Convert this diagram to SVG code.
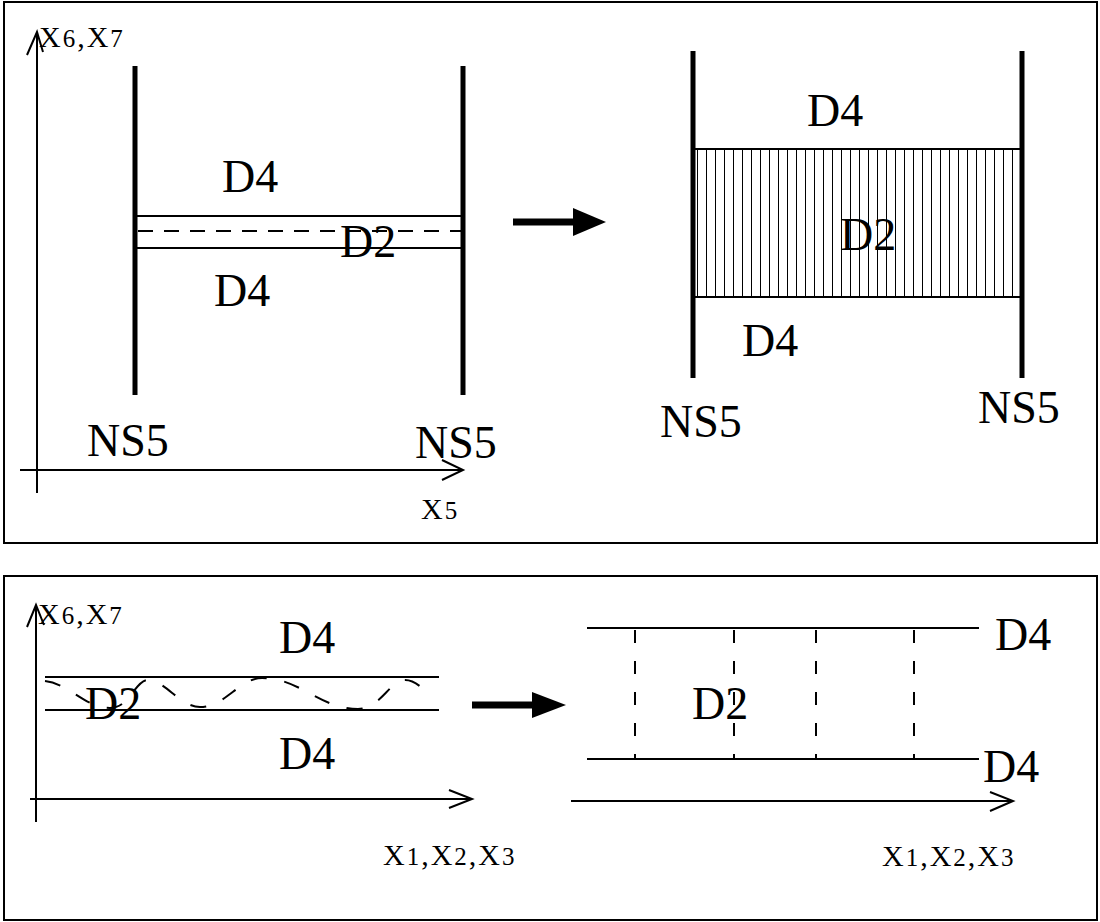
<svg xmlns="http://www.w3.org/2000/svg" width="1100" height="922" viewBox="0 0 1100 922">
<style>
.frame{fill:none;stroke:#000;stroke-width:2}
.ax{fill:none;stroke:#000;stroke-width:2}
.thin{fill:none;stroke:#000;stroke-width:2}
.thick{fill:none;stroke:#000;stroke-width:5}
.dash{fill:none;stroke:#000;stroke-width:2;stroke-dasharray:15 11}
.lbl{font-family:"Liberation Serif","Times New Roman",serif;font-size:46px;fill:#000}
.axl{font-family:"Liberation Serif","Times New Roman",serif;font-size:30px;fill:#000;letter-spacing:2px}
.dg{font-size:25px}
</style>
<defs>
<pattern id="hatch" patternUnits="userSpaceOnUse" x="693" y="0" width="9" height="10">
<rect width="9" height="10" fill="#fff"/>
<line x1="4.5" y1="0" x2="4.5" y2="10" stroke="#000" stroke-width="1"/>
</pattern>
</defs>
<rect x="0" y="0" width="1100" height="922" fill="#fff"/>
<g id="frames">
<rect class="frame" x="4" y="2" width="1093" height="541"/>
<rect class="frame" x="4" y="576" width="1093" height="344"/>
</g>
<g id="top-left">
<line class="ax" x1="37" y1="32" x2="37" y2="493"/>
<polyline class="ax" points="27,55 37,32 43,52"/>
<line class="ax" x1="20" y1="470" x2="463" y2="470"/>
<polyline class="ax" points="442,460 463,470 442,480"/>
<text class="axl" x="39" y="47">X<tspan class="dg">6</tspan>,X<tspan class="dg">7</tspan></text>
<text class="axl" x="421" y="519">X<tspan class="dg">5</tspan></text>
<line class="thick" x1="135" y1="66" x2="135" y2="395"/>
<line class="thick" x1="463" y1="66" x2="463" y2="395"/>
<line class="thin" x1="135" y1="216" x2="463" y2="216"/>
<line class="thin" x1="135" y1="248" x2="463" y2="248"/>
<line class="dash" x1="138" y1="231" x2="463" y2="231"/>
<text class="lbl" x="222" y="192">D4</text>
<text class="lbl" x="340" y="257">D2</text>
<text class="lbl" x="214" y="306">D4</text>
<text class="lbl" x="87" y="456">NS5</text>
<text class="lbl" x="415" y="458">NS5</text>
</g>
<g id="top-arrow">
<line x1="513" y1="222" x2="575" y2="222" stroke="#000" stroke-width="7"/>
<polygon points="573,208 606,222 573,236" fill="#000"/>
</g>
<g id="top-right">
<rect x="693" y="149" width="329" height="148" fill="url(#hatch)" stroke="#000" stroke-width="2"/>
<line class="thick" x1="693" y1="51" x2="693" y2="378"/>
<line class="thick" x1="1022" y1="51" x2="1022" y2="378"/>
<text class="lbl" x="807" y="126">D4</text>
<text class="lbl" x="840" y="250">D2</text>
<text class="lbl" x="742" y="356">D4</text>
<text class="lbl" x="660" y="437">NS5</text>
<text class="lbl" x="978" y="423">NS5</text>
</g>
<g id="bottom-left">
<line class="ax" x1="36" y1="605" x2="36" y2="822"/>
<polyline class="ax" points="27,627 36,605 44,625"/>
<line class="ax" x1="30" y1="799" x2="472" y2="799"/>
<polyline class="ax" points="449,790 472,799 449,808"/>
<text class="axl" x="38" y="624">X<tspan class="dg">6</tspan>,X<tspan class="dg">7</tspan></text>
<text class="axl" x="383" y="865">X<tspan class="dg">1</tspan>,X<tspan class="dg">2</tspan>,X<tspan class="dg">3</tspan></text>
<line class="thin" x1="45" y1="677" x2="439" y2="677"/>
<line class="thin" x1="45" y1="710" x2="439" y2="710"/>
<path d="M45,681 C70,684 85,708 110,708 C130,708 135,680 148,680 C165,680 180,707 200,707 C225,707 240,678 262,678 C300,678 320,709 358,709 C380,709 390,680 405,680 C415,680 422,688 428,694" fill="none" stroke="#000" stroke-width="2" stroke-dasharray="16 18"/>
<text class="lbl" x="279" y="653">D4</text>
<text class="lbl" x="85" y="719">D2</text>
<text class="lbl" x="279" y="769">D4</text>
</g>
<g id="bottom-arrow">
<line x1="472" y1="705" x2="535" y2="705" stroke="#000" stroke-width="7"/>
<polygon points="532,692 566,705 532,718" fill="#000"/>
</g>
<g id="bottom-right">
<line class="ax" x1="571" y1="801" x2="1013" y2="801"/>
<polyline class="ax" points="990,792 1013,801 990,811"/>
<text class="axl" x="882" y="866">X<tspan class="dg">1</tspan>,X<tspan class="dg">2</tspan>,X<tspan class="dg">3</tspan></text>
<line class="thin" x1="587" y1="628" x2="979" y2="628"/>
<line class="thin" x1="587" y1="759" x2="979" y2="759"/>
<g stroke="#000" stroke-width="2" stroke-dasharray="13 18">
<line x1="635" y1="630" x2="635" y2="759"/>
<line x1="734" y1="630" x2="734" y2="759"/>
<line x1="816" y1="630" x2="816" y2="759"/>
<line x1="914" y1="630" x2="914" y2="759"/>
</g>
<text class="lbl" x="995" y="650">D4</text>
<text class="lbl" x="692" y="719">D2</text>
<text class="lbl" x="983" y="782">D4</text>
</g>
</svg>
